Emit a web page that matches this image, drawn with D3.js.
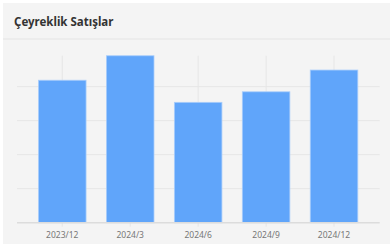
<!DOCTYPE html>
<html>
<head>
<meta charset="utf-8">
<script src="https://cdn.jsdelivr.net/npm/d3@7"></script>
<style>
  html, body { margin: 0; padding: 0; background: #fff; }
  svg { display: block; font-family: "Noto Sans", "DejaVu Sans", sans-serif; }
</style>
</head>
<body>
<script>
// chart data
const quarters = ['2023/12', '2024/3', '2024/6', '2024/9', '2024/12'];
const sales = [419, 491, 354, 385, 449];
const yTicks = [0, 100, 200, 300, 400, 500];
const title = 'Çeyreklik Satışlar';

const svgWidth = 391;
const svgHeight = 244;
const margin = {top: 52.7, right: 23, bottom: 21.3, left: 28.3};
const plotWidth = svgWidth - margin.left - margin.right;
const plotHeight = svgHeight - margin.top - margin.bottom;

const svg = d3.select('body')
              .append('svg')
              .attr('width', svgWidth)
              .attr('height', svgHeight);

// card background
svg.append('rect')
   .attr('x', 3)
   .attr('y', 3)
   .attr('width', svgWidth - 4)
   .attr('height', svgHeight - 3)
   .attr('fill', '#f4f4f4');

// title and divider
svg.append('text')
   .attr('x', 14)
   .attr('y', 26)
   .attr('font-size', 11.5)
   .attr('font-weight', 'bold')
   .attr('fill', '#333')
   .text(title);

svg.append('line')
   .attr('x1', 3)
   .attr('x2', svgWidth - 1)
   .attr('y1', 39)
   .attr('y2', 39)
   .attr('stroke', '#e4e4e4')
   .attr('stroke-width', 1);

const inner = svg.append('g')
                 .attr('transform', 'translate(' + margin.left + ',' + margin.top + ')');

const xScale = d3.scaleBand()
                 .domain(quarters)
                 .range([0, plotWidth])
                 .paddingInner(0.3)
                 .paddingOuter(0.15);

const yScale = d3.scaleLinear()
                 .domain([0, 500])
                 .range([plotHeight, 0]);

// horizontal gridlines (top one left out)
inner.selectAll('line.hgrid')
     .data(yTicks.filter(d => d > 0 && d < 500))
     .enter()
     .append('line')
     .attr('class', 'hgrid')
     .attr('x1', -11.3)
     .attr('x2', plotWidth + 11.7)
     .attr('y1', d => yScale(d))
     .attr('y2', d => yScale(d))
     .attr('stroke', '#e6e6e6')
     .attr('stroke-width', 1);

// vertical gridlines at category centres
inner.selectAll('line.vgrid')
     .data(quarters)
     .enter()
     .append('line')
     .attr('class', 'vgrid')
     .attr('x1', d => xScale(d) + xScale.bandwidth() / 2)
     .attr('x2', d => xScale(d) + xScale.bandwidth() / 2)
     .attr('y1', 3)
     .attr('y2', plotHeight + 4)
     .attr('stroke', '#e6e6e6')
     .attr('stroke-width', 1);

// bars
inner.selectAll('rect.bar')
     .data(sales)
     .enter()
     .append('rect')
     .attr('class', 'bar')
     .attr('x', (d, i) => xScale(quarters[i]))
     .attr('y', d => yScale(d))
     .attr('width', xScale.bandwidth())
     .attr('height', d => plotHeight - yScale(d))
     .attr('fill', '#60a5fa')
     .attr('stroke', '#a9cdfb')
     .attr('stroke-width', 0.8);

// baseline
inner.append('line')
     .attr('x1', -11.3)
     .attr('x2', plotWidth + 11.7)
     .attr('y1', plotHeight)
     .attr('y2', plotHeight)
     .attr('stroke', '#dcdcdc')
     .attr('stroke-width', 1.5);

// x axis labels
const xAxis = d3.axisBottom(xScale).tickSize(0).tickPadding(9);
const xg = inner.append('g')
                .attr('transform', 'translate(0,' + plotHeight + ')')
                .call(xAxis);
xg.select('.domain').remove();
xg.selectAll('text')
  .attr('font-size', 8.5)
  .attr('font-family', '"Noto Sans", sans-serif')
  .attr('fill', '#777');
</script>
</body>
</html>
